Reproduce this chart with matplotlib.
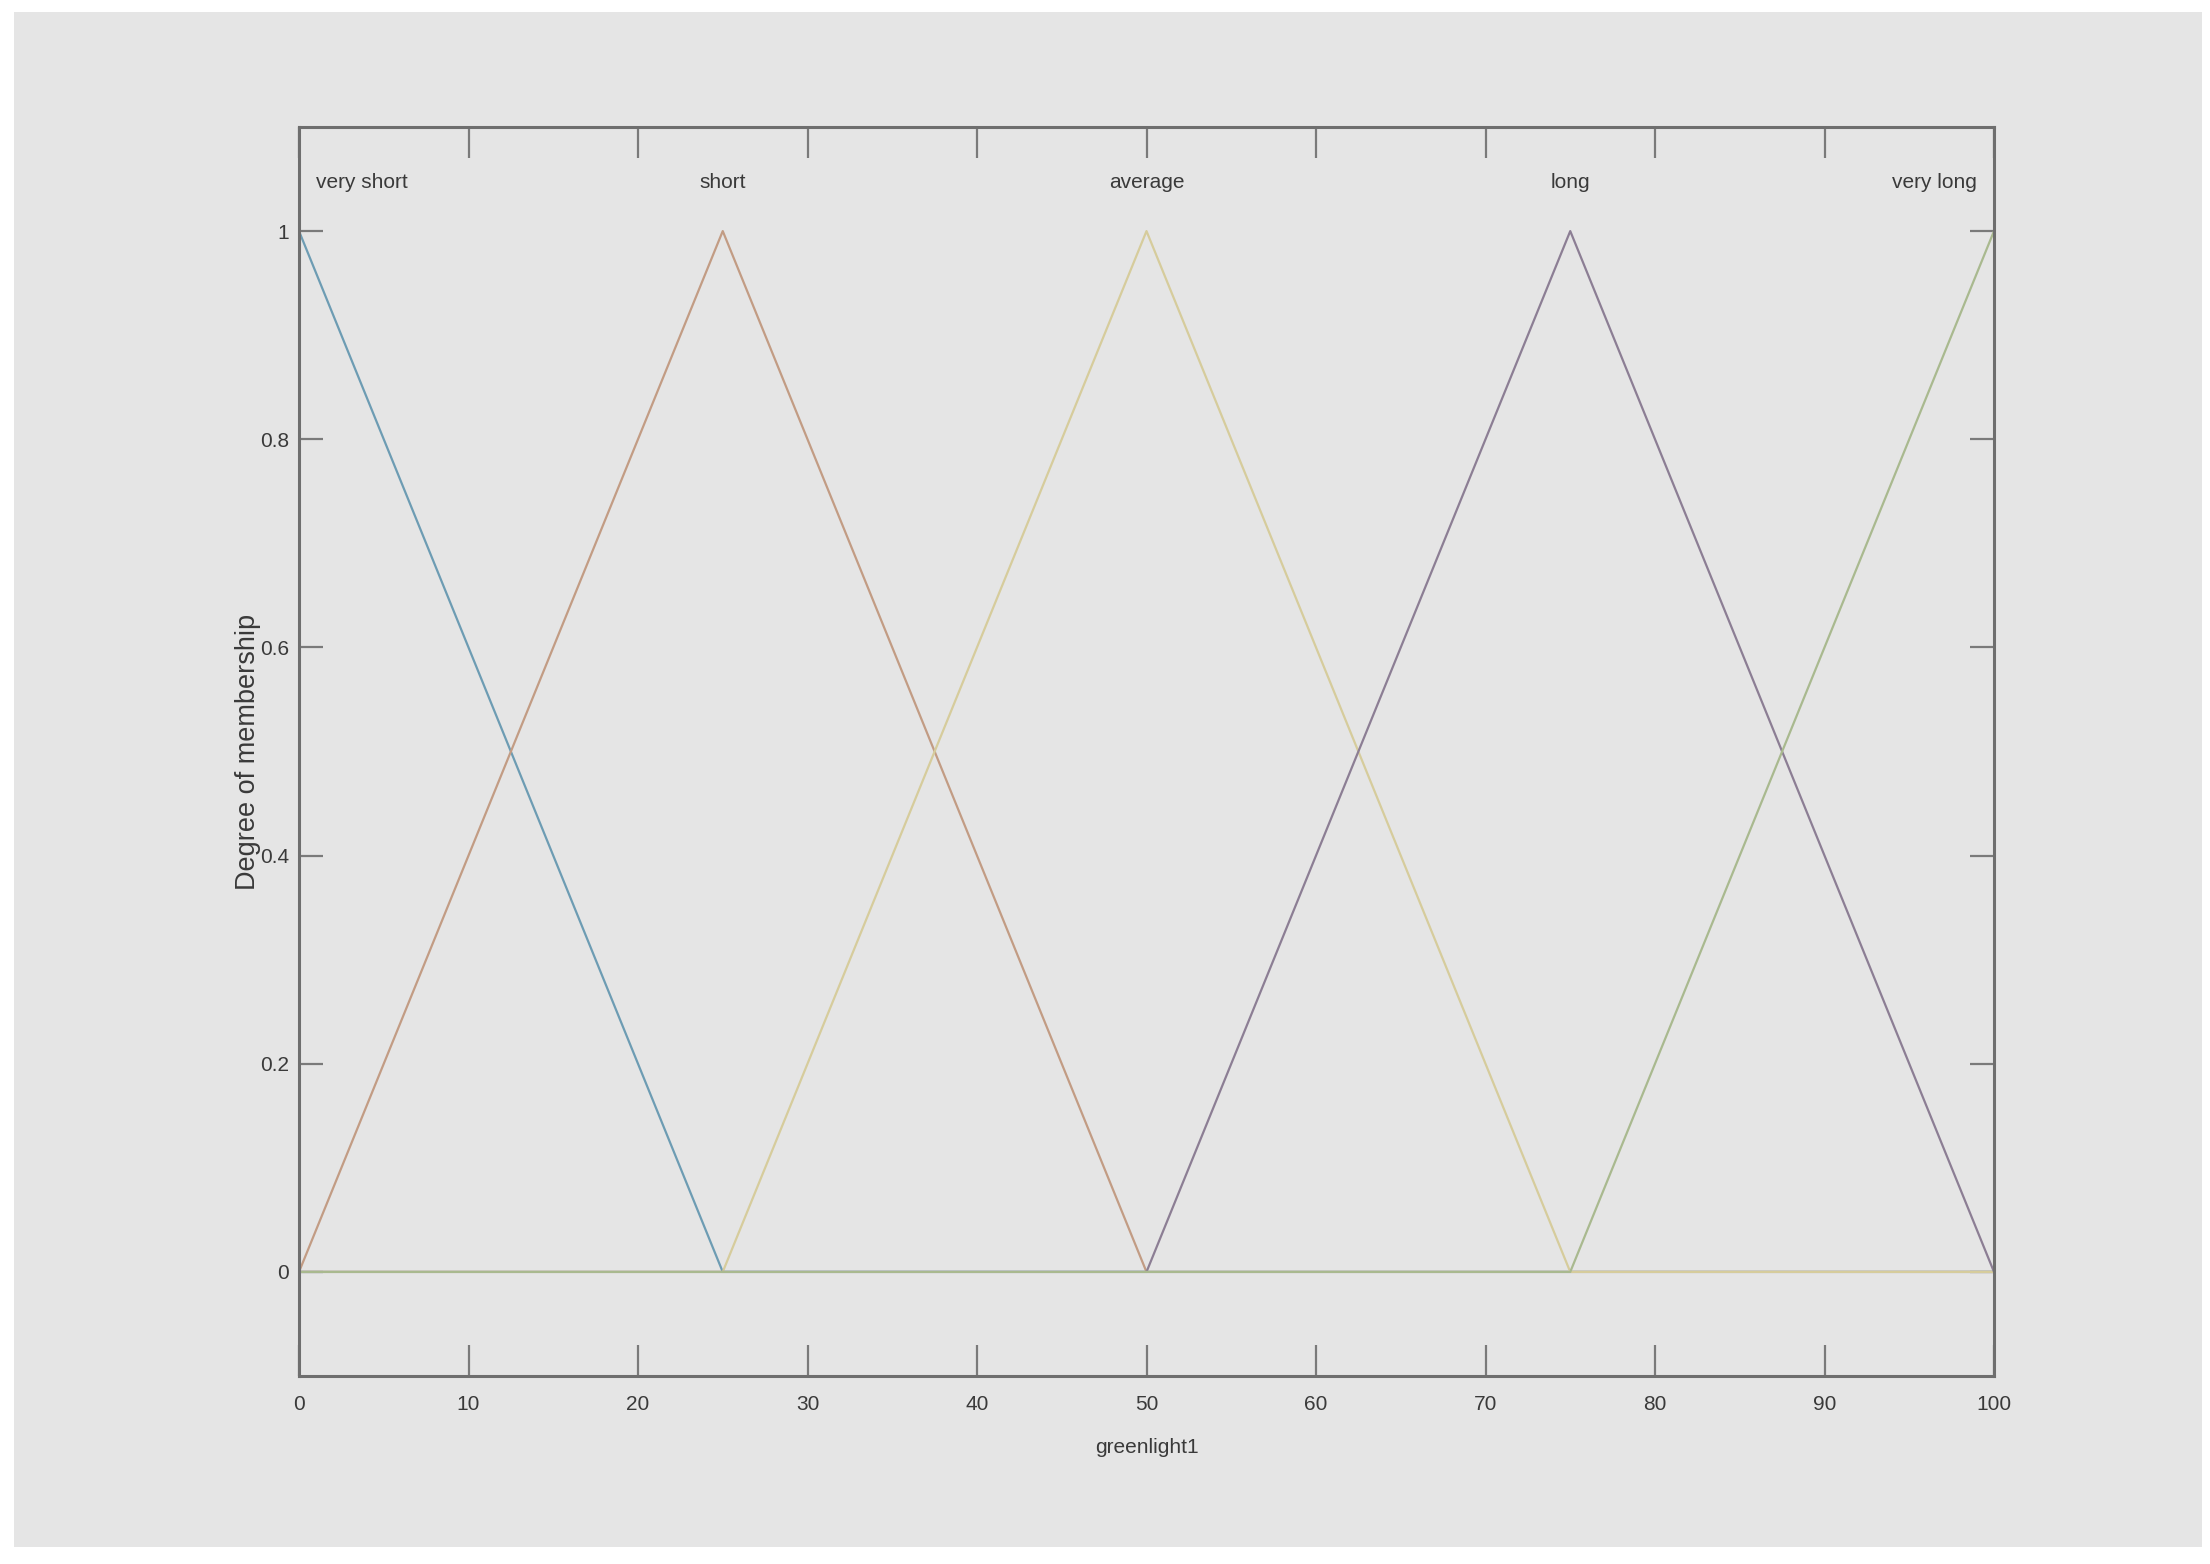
import numpy as np
import matplotlib
matplotlib.use("Agg")
import matplotlib.pyplot as plt
from matplotlib.patches import Rectangle

# membership functions of greenlight1 (trimf parameters a, b, c)
mf_names = ["very short", "short", "average", "long", "very long"]
mf_params = [[-25, 0, 25], [0, 25, 50], [25, 50, 75], [50, 75, 100], [75, 100, 125]]
mf_colors = ["#6d9cb3", "#c29c84", "#d6cc9c", "#8c7e94", "#a9b98f"]
x_range = [0, 100]

font = ["Liberation Sans", "DejaVu Sans"]
txt_col = "#3a3a3a"
ax_col = "#6e6e6e"
fs = 15

fig = plt.figure(figsize=(22.10, 15.64), dpi=100, facecolor="white")
bg = Rectangle((14 / 2210, 1 - 1547 / 1564), (2202 - 14) / 2210, (1547 - 12) / 1564,
               transform=fig.transFigure, facecolor="#e5e5e5", edgecolor="none", zorder=-10)
fig.add_artist(bg)

ax = fig.add_axes([299 / 2210, 1 - 1376 / 1564, (1994 - 299) / 2210, (1376 - 127) / 1564])
ax.set_facecolor("#e5e5e5")

for name, p, c in zip(mf_names, mf_params, mf_colors):
    a, b, cc = p
    xs = np.array(sorted(set([x_range[0], x_range[1]] + [v for v in p if x_range[0] <= v <= x_range[1]])), float)
    ys = np.maximum(np.minimum((xs - a) / (b - a), (cc - xs) / (cc - b)), 0)
    ax.plot(xs, ys, color=c, lw=1.6)

# labels above each peak
for i, (name, p) in enumerate(zip(mf_names, mf_params)):
    if i == 0:
        ax.text(1.0, 1.047, name, ha="left", va="center", fontsize=fs, family=font, color=txt_col)
    elif i == len(mf_names) - 1:
        ax.text(99.0, 1.047, name, ha="right", va="center", fontsize=fs, family=font, color=txt_col)
    else:
        ax.text(p[1], 1.047, name, ha="center", va="center", fontsize=fs, family=font, color=txt_col)

ax.set_xlim(0, 100)
ax.set_ylim(-0.1, 1.1)
ax.set_xticks(np.arange(0, 101, 10))
ax.set_yticks([0, 0.2, 0.4, 0.6, 0.8, 1])
ax.set_yticklabels(["0", "0.2", "0.4", "0.6", "0.8", "1"])
ax.tick_params(direction="in", top=True, right=True, color="#7a7a7a", width=1.6, labelcolor=txt_col)
ax.tick_params(axis="x", length=22, pad=14)
ax.tick_params(axis="y", length=17, pad=7)
for lab in ax.get_xticklabels() + ax.get_yticklabels():
    lab.set_family(font)
    lab.set_fontsize(fs)
for s in ax.spines.values():
    s.set_color(ax_col)
    s.set_linewidth(2.2)

ax.set_xlabel("greenlight1", fontsize=fs, family=font, color=txt_col)
ax.xaxis.label.set_va("center")
ax.xaxis.set_label_coords(0.5, -0.057)
ax.set_ylabel("Degree of membership", fontsize=19.5, family=font, color=txt_col)
ax.yaxis.label.set_va("center")
ax.yaxis.set_label_coords(-0.030, 0.5)

fig.savefig("out.png", dpi=100, facecolor="white")
